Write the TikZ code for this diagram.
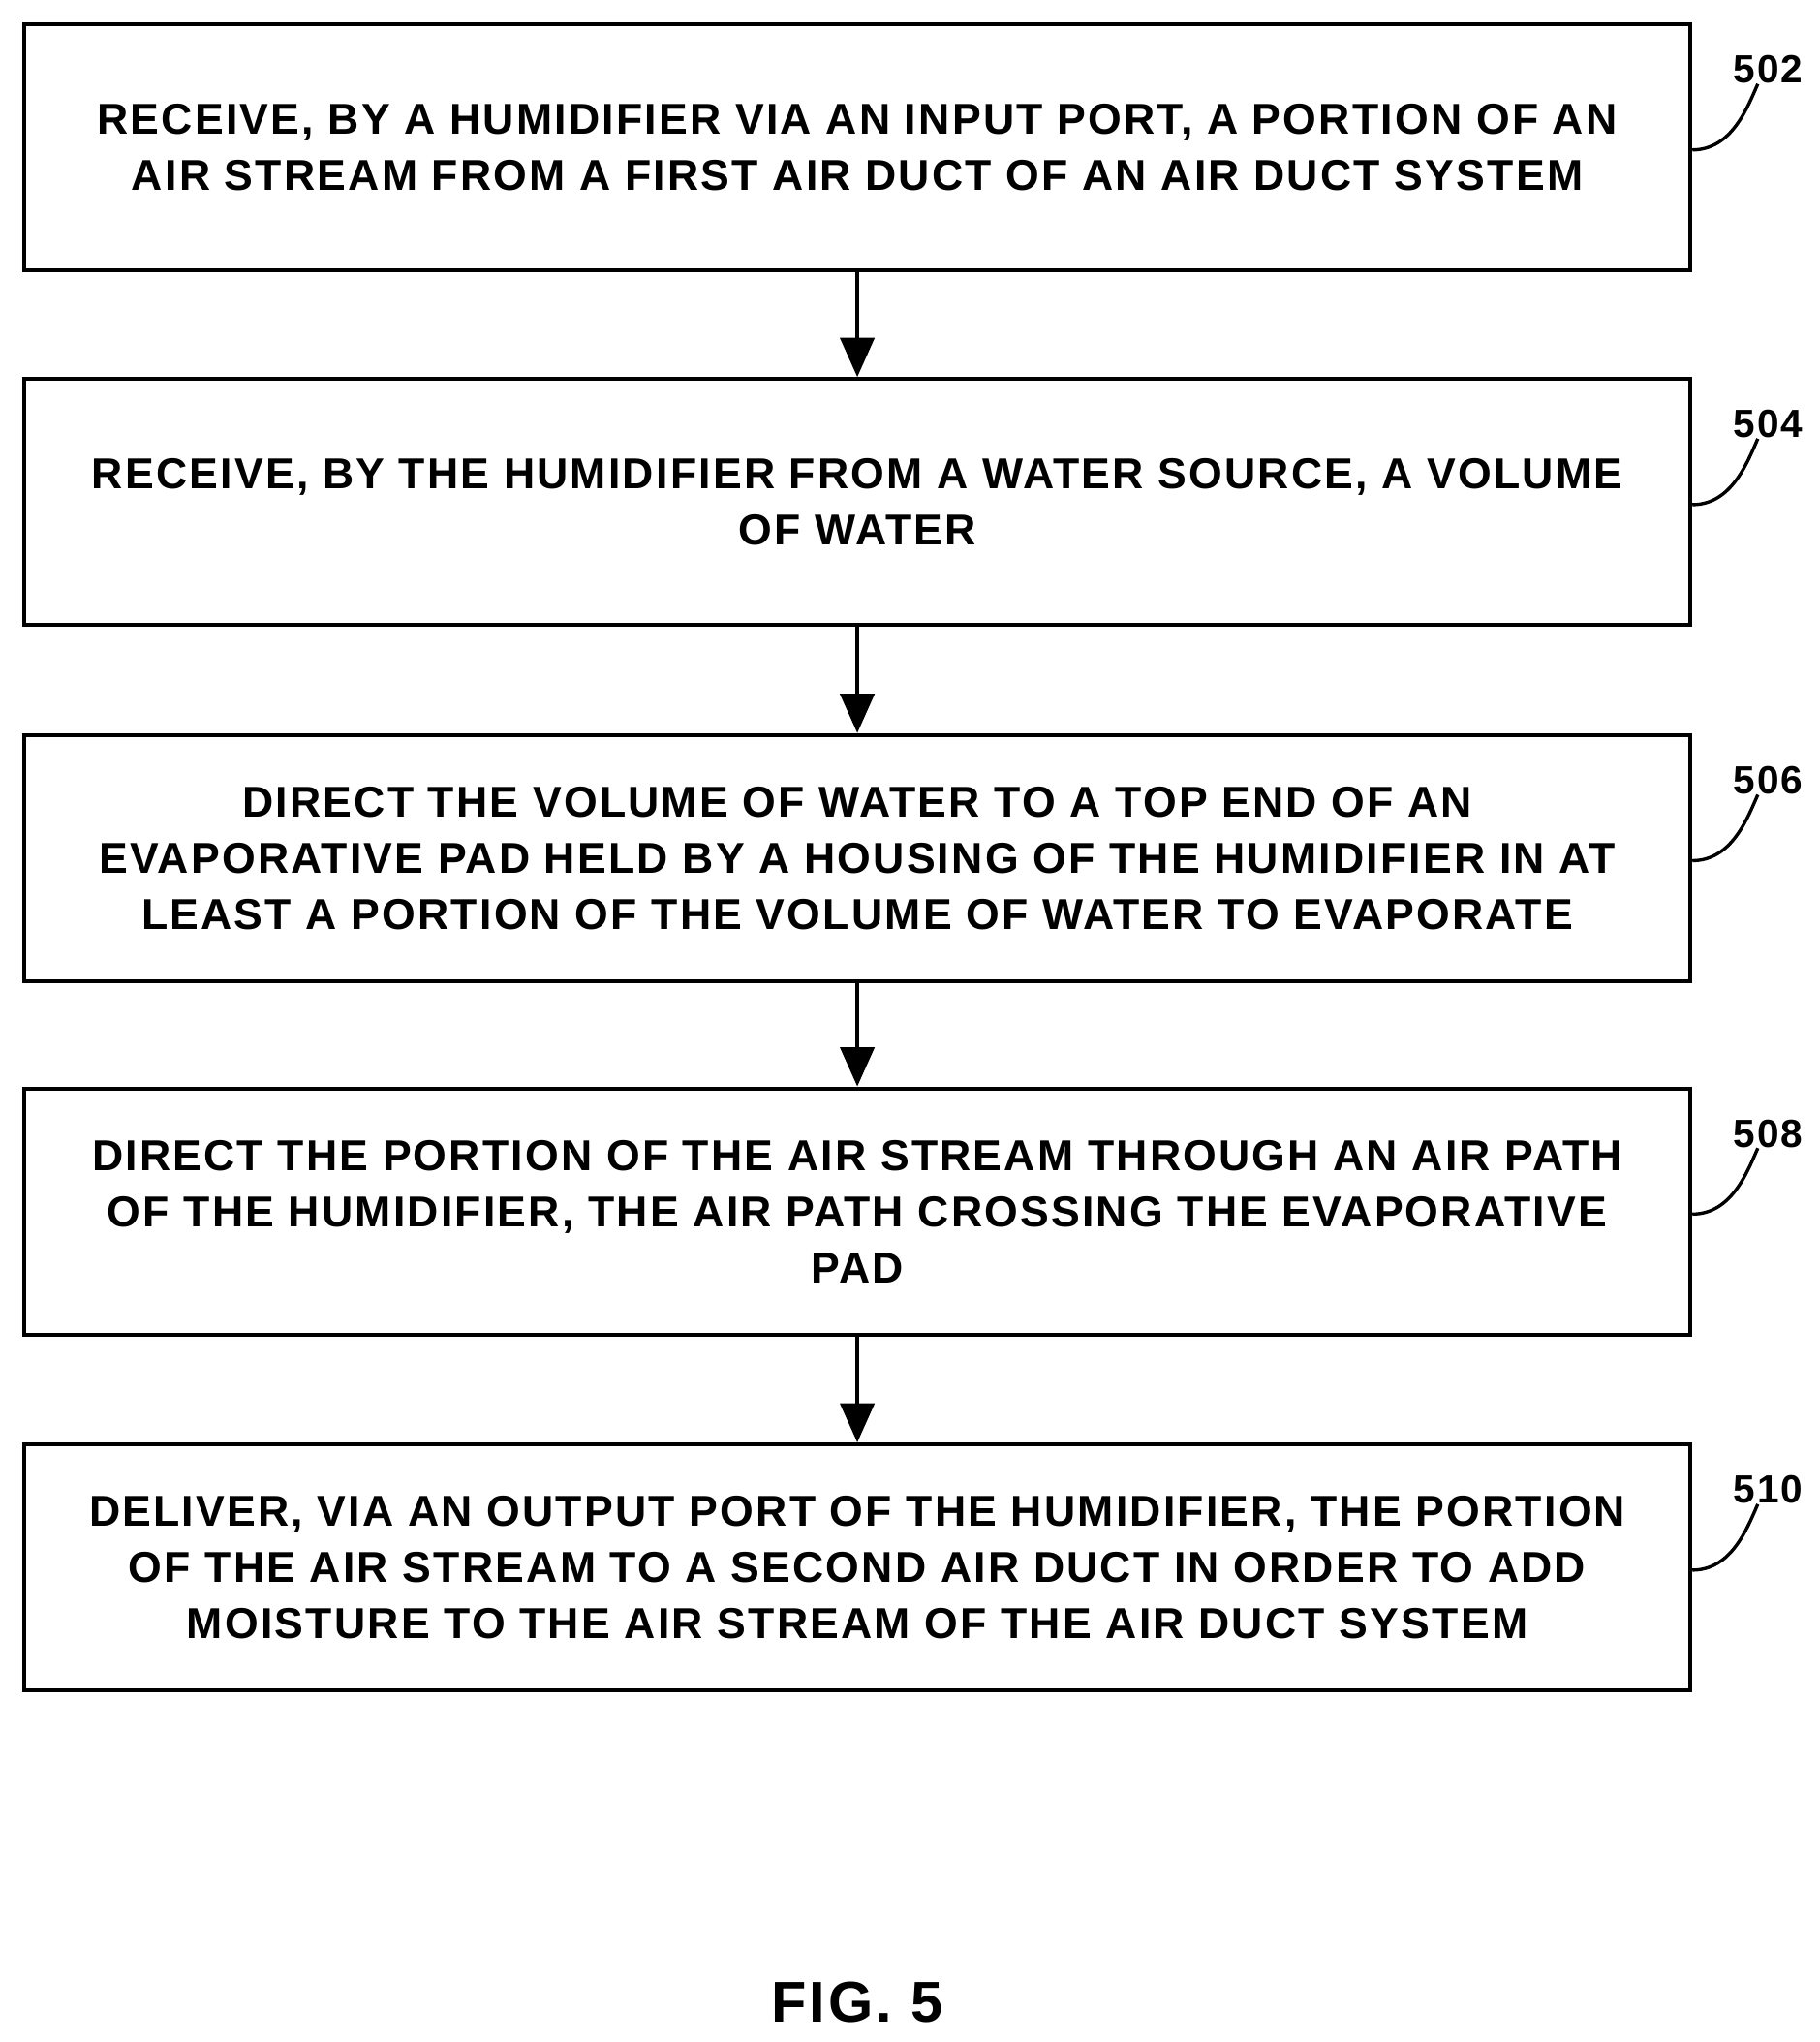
\documentclass[tikz,border=0pt]{standalone}
\usepackage{fontspec}
\setmainfont{Liberation Sans}[LetterSpace=5]
\usetikzlibrary{arrows.meta}
\begin{document}
\begin{tikzpicture}[x=1pt,y=-1pt,
  box/.style={draw,line width=3pt,minimum width=1273pt,minimum height=188pt,align=center,
    font=\fontsize{33}{43}\selectfont\bfseries,anchor=north west,inner sep=0pt},
  arr/.style={line width=3pt,-{Triangle[length=30pt,width=26pt]}},
  lab/.style={font=\fontsize{30}{32}\selectfont\bfseries},
  lead/.style={line width=2.5pt}]
\useasboundingbox (0,0) rectangle (1390,1560);
\node[box] (b1) at (17,17) {RECEIVE, BY A HUMIDIFIER VIA AN INPUT PORT, A PORTION OF AN\\AIR STREAM FROM A FIRST AIR DUCT OF AN AIR DUCT SYSTEM};
\node[box] (b2) at (17,288) {RECEIVE, BY THE HUMIDIFIER FROM A WATER SOURCE, A VOLUME\\OF WATER};
\node[box] (b3) at (17,560) {DIRECT THE VOLUME OF WATER TO A TOP END OF AN\\EVAPORATIVE PAD HELD BY A HOUSING OF THE HUMIDIFIER IN AT\\LEAST A PORTION OF THE VOLUME OF WATER TO EVAPORATE};
\node[box] (b4) at (17,830) {DIRECT THE PORTION OF THE AIR STREAM THROUGH AN AIR PATH\\OF THE HUMIDIFIER, THE AIR PATH CROSSING THE EVAPORATIVE\\PAD};
\node[box] (b5) at (17,1102) {DELIVER, VIA AN OUTPUT PORT OF THE HUMIDIFIER, THE PORTION\\OF THE AIR STREAM TO A SECOND AIR DUCT IN ORDER TO ADD\\MOISTURE TO THE AIR STREAM OF THE AIR DUCT SYSTEM};
\foreach \a/\b in {b1/b2,b2/b3,b3/b4,b4/b5} \draw[arr] (\a.south) -- (\b.north);
\foreach \b/\n in {b1/502,b2/504,b3/506,b4/508,b5/510}{
  \node[lab] (l\n) at ([xshift=58pt,yshift=-36pt]\b.north east) {\n};
  \draw[lead] ([yshift=-2pt]\b.east) .. controls +(30,0) and +(-8,18) .. ([xshift=-8pt,yshift=3pt]l\n.south);
}
\node[font=\fontsize{44}{48}\selectfont\bfseries] (fig) at (655,1530) {FIG. 5};
\end{tikzpicture}
\end{document}
